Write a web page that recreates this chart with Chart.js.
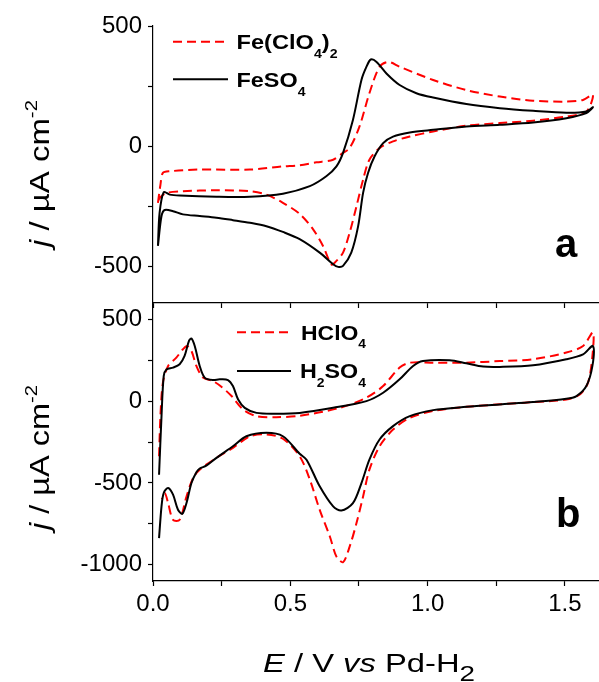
<!DOCTYPE html>
<html>
<head>
<meta charset="utf-8">
<script src="https://cdn.jsdelivr.net/npm/chart.js@4.4.1/dist/chart.umd.min.js"></script>
<style>
  html, body { margin: 0; padding: 0; background: #fff; overflow: hidden; }
  #wrap { position: relative; width: 599px; height: 682px; }
  canvas { position: absolute; left: 0; top: 0; }
</style>
</head>
<body>
<div id="wrap">
  <canvas id="panelA" width="599" height="682"></canvas>
  <canvas id="panelB" width="599" height="682"></canvas>
</div>
<script>
// ---- data (E in V vs Pd-H2, j in uA cm-2) ----
// panel a, FeSO4 (solid black), anodic then cathodic sweep
const E_A_FESO4 = [0.018,0.024,0.039,0.061,0.097,0.231,0.353,0.473,0.571,0.631,0.668,0.692,0.728,0.759,0.777,0.793,0.814,0.850,0.898,0.959,1.020,1.141,1.263,1.384,1.505,1.578,1.602,
  1.578,1.505,1.384,1.263,1.141,1.020,0.935,0.874,0.838,0.807,0.783,0.765,0.747,0.722,0.692,0.674,0.656,0.607,0.534,0.473,0.413,0.353,0.291,0.231,0.170,0.109,0.073,0.043,0.031,0.018];
const J_A_FESO4 = [-413,-276,-190,-200,-204,-209,-209,-196,-165,-124,-83,-27,110,276,330,361,351,303,255,221,203,176,159,148,140,145,163,
  138,117,99,90,83,69,58,41,14,-41,-110,-193,-331,-441,-496,-500,-489,-441,-385,-355,-331,-317,-306,-296,-289,-282,-269,-264,-289,-413];

// panel a, Fe(ClO4)2 (dashed red)
const E_A_FECLO4 = [0.018,0.027,0.036,0.061,0.170,0.353,0.473,0.534,0.595,0.656,0.692,0.716,0.752,0.788,0.825,0.856,0.898,1.020,1.141,1.263,1.384,1.505,1.566,1.602,
  1.578,1.505,1.384,1.263,1.141,1.020,0.935,0.874,0.825,0.788,0.765,0.741,0.716,0.692,0.668,0.650,0.619,0.583,0.534,0.473,0.413,0.353,0.231,0.109,0.049,0.024,0.018];
const J_A_FECLO4 = [-234,-160,-110,-103,-96,-96,-83,-78,-66,-55,-27,-7,83,221,331,351,331,276,234,207,190,186,193,215,
  145,124,107,97,86,62,41,21,-7,-55,-138,-248,-358,-441,-475,-490,-413,-344,-280,-234,-200,-186,-182,-186,-193,-214,-234];

// panel b, H2SO4 (solid black)
const E_B_H2SO4 = [0.022,0.031,0.039,0.049,0.073,0.097,0.115,0.131,0.140,0.152,0.170,0.188,0.218,0.243,0.273,0.291,0.310,0.334,0.377,0.449,0.534,0.656,0.777,0.838,0.898,0.947,0.983,1.080,1.141,1.202,1.263,1.384,1.505,1.566,1.602,
  1.600,1.578,1.542,1.505,1.384,1.263,1.141,1.020,0.935,0.874,0.825,0.788,0.759,0.728,0.686,0.656,0.607,0.559,0.534,0.473,0.413,0.340,0.291,0.231,0.194,0.170,0.158,0.140,0.122,0.107,0.091,0.073,0.055,0.039,0.031,0.022];
const J_B_H2SO4 = [-450,-92,153,194,205,225,276,368,383,337,215,144,129,133,129,92,10,-41,-72,-77,-72,-41,0,51,133,215,245,250,231,211,209,219,256,286,337,
  215,92,31,14,-6,-20,-35,-55,-92,-153,-235,-358,-501,-624,-669,-644,-521,-358,-322,-215,-194,-215,-276,-347,-395,-412,-435,-501,-623,-689,-664,-572,-531,-562,-644,-838];

// panel b, HClO4 (dashed red)
const E_B_HCLO4 = [0.022,0.027,0.036,0.055,0.085,0.109,0.124,0.140,0.158,0.182,0.218,0.249,0.286,0.328,0.377,0.449,0.534,0.680,0.777,0.838,0.898,0.935,1.020,1.141,1.263,1.384,1.505,1.566,1.602,
  1.600,1.584,1.554,1.505,1.384,1.141,1.020,0.935,0.874,0.825,0.788,0.765,0.741,0.716,0.692,0.668,0.644,0.607,0.571,0.534,0.473,0.413,0.353,0.291,0.231,0.170,0.146,0.122,0.097,0.073,0.055,0.043,0.032];
const J_B_HCLO4 = [-337,-92,112,215,266,317,337,307,215,144,123,88,31,-51,-92,-98,-90,-41,21,92,205,235,235,235,245,256,297,337,420,
  276,113,41,10,-6,-35,-60,-102,-174,-276,-419,-583,-746,-890,-985,-951,-828,-665,-480,-337,-230,-204,-215,-286,-347,-419,-470,-583,-726,-726,-624,-562,-600];

// axes
const X_TICKS = [0, 0.25, 0.5, 0.75, 1.0, 1.25, 1.5];
const Y_TICKS_A = [-500, -250, 0, 250, 500];
const Y_TICKS_B = [-1000, -750, -500, -250, 0, 250, 500];
const X_MAX = 1.624;
const Y_RANGE_A = [-650, 500];
const Y_RANGE_B = [-1100, 600];

const FONT = '"Liberation Sans", Arial, sans-serif';
const RED = '#ff0000';

function pts(xs, ys) { return xs.map((x, i) => ({ x: x, y: ys[i] })); }

// draws text made of pieces (italic / sub / sup), optionally squeezed to a width
function drawRich(ctx, parts, x, y, size, o) {
  o = o || {};
  const fontOf = p => {
    const s = (p.sub || p.sup) ? size * (p.k || 0.6) : size;
    return (p.i ? 'italic ' : '') + (o.bold ? 'bold ' : '') + s + 'px ' + FONT;
  };
  let w = 0;
  parts.forEach(p => { ctx.font = fontOf(p); w += ctx.measureText(p.t).width; });
  const sx = o.width ? o.width / w : 1;
  ctx.save();
  ctx.translate(x, y);
  if (o.rotate) ctx.rotate(-Math.PI / 2);
  ctx.scale(sx, 1);
  ctx.fillStyle = '#000';
  ctx.textBaseline = 'alphabetic';
  let cx = 0;
  parts.forEach(p => {
    ctx.font = fontOf(p);
    let dy = 0;
    if (p.sub) dy = size * (p.d || 0.4);
    if (p.sup) dy = -size * (p.d || 0.45);
    ctx.fillText(p.t, cx, dy);
    cx += ctx.measureText(p.t).width;
  });
  ctx.restore();
}

function legendLine(ctx, x1, x2, y, color, dash) {
  ctx.save();
  ctx.strokeStyle = color;
  ctx.lineWidth = 2;
  ctx.setLineDash(dash || []);
  ctx.beginPath();
  ctx.moveTo(x1, y);
  ctx.lineTo(x2, y);
  ctx.stroke();
  ctx.restore();
}

const Y_TITLE = [{ t: 'j', i: true }, { t: ' / \u00b5A cm' }, { t: '-2', sup: true, k: 0.62, d: 0.42 }];

const decorA = {
  id: 'decorA',
  afterDraw(chart) {
    const ctx = chart.ctx;
    legendLine(ctx, 173, 228, 41.7, RED, [9, 5]);
    legendLine(ctx, 173, 228, 79.3, '#000');
    drawRich(ctx, [{ t: 'Fe(ClO' }, { t: '4', sub: true }, { t: ')' }, { t: '2', sub: true }], 236.5, 49.3, 21, { bold: true, width: 101 });
    drawRich(ctx, [{ t: 'FeSO' }, { t: '4', sub: true }], 236.5, 87.3, 21, { bold: true, width: 69 });
    drawRich(ctx, [{ t: 'a' }], 555, 256.5, 40, { bold: true });
    drawRich(ctx, Y_TITLE, 48.5, 247, 28, { rotate: true, width: 147 });
  }
};

const decorB = {
  id: 'decorB',
  afterDraw(chart) {
    const ctx = chart.ctx;
    legendLine(ctx, 237, 291, 332.3, RED, [9, 5]);
    legendLine(ctx, 237, 291, 371, '#000');
    drawRich(ctx, [{ t: 'HClO' }, { t: '4', sub: true }], 301, 340, 21, { bold: true, width: 65 });
    drawRich(ctx, [{ t: 'H' }, { t: '2', sub: true }, { t: 'SO' }, { t: '4', sub: true }], 300, 378.3, 21, { bold: true, width: 66 });
    drawRich(ctx, [{ t: 'b' }], 556, 527, 40, { bold: true });
    drawRich(ctx, Y_TITLE, 49, 530, 28, { rotate: true, width: 145 });
    drawRich(ctx, [{ t: 'E', i: true }, { t: ' / V ' }, { t: 'vs', i: true }, { t: ' Pd-H' }, { t: '2', sub: true, k: 0.85, d: 0.38 }],
      263, 671.5, 26, { width: 212 });
  }
};

function makePanel(canvas, sets, yRange, yTicks, showX, padding, xHeight, plugin) {
  return new Chart(canvas, {
    type: 'line',
    data: { datasets: sets },
    options: {
      responsive: false,
      animation: false,
      devicePixelRatio: 1,
      layout: { padding: padding },
      plugins: { legend: { display: false }, tooltip: { enabled: false } },
      elements: { point: { radius: 0 }, line: { tension: 0.3, borderCapStyle: 'butt' } },
      scales: {
        x: {
          type: 'linear', min: 0, max: X_MAX,
          afterBuildTicks: s => { s.ticks = X_TICKS.map(v => ({ value: v })); },
          afterFit: s => { s.height = xHeight; },
          grid: { display: true, drawOnChartArea: false, drawTicks: true, tickLength: 5, tickColor: '#000', tickWidth: 1.2 },
          border: { display: true, color: '#000', width: 1.2 },
          ticks: {
            color: '#000', padding: 4, maxRotation: 0, autoSkip: false,
            font: { family: FONT, size: 24 },
            callback: v => (showX && Math.abs(v * 2 - Math.round(v * 2)) < 1e-6) ? v.toFixed(1) : ''
          }
        },
        y: {
          type: 'linear', min: yRange[0], max: yRange[1],
          afterBuildTicks: s => { s.ticks = yTicks.map(v => ({ value: v })); },
          afterFit: s => { s.width = 153; },
          grid: { display: true, drawOnChartArea: false, drawTicks: true, tickLength: 5, tickColor: '#000', tickWidth: 1.2 },
          border: { display: true, color: '#000', width: 1.2 },
          ticks: {
            color: '#000', padding: 6, autoSkip: false,
            font: { family: FONT, size: 24 },
            callback: v => (v % 500 === 0) ? String(v) : ''
          }
        }
      }
    },
    plugins: [plugin]
  });
}

makePanel(document.getElementById('panelA'), [
  { data: pts(E_A_FESO4, J_A_FESO4), borderColor: '#000', borderWidth: 2, fill: false },
  { data: pts(E_A_FECLO4, J_A_FECLO4), borderColor: RED, borderWidth: 2, borderDash: [9, 5], fill: false }
], Y_RANGE_A, Y_TICKS_A, false, { top: 26, bottom: 373, left: 0, right: 0 }, 6, decorA);

makePanel(document.getElementById('panelB'), [
  { data: pts(E_B_H2SO4, J_B_H2SO4), borderColor: '#000', borderWidth: 2, fill: false },
  { data: pts(E_B_HCLO4, J_B_HCLO4), borderColor: RED, borderWidth: 2, borderDash: [9, 5], fill: false }
], Y_RANGE_B, Y_TICKS_B, true, { top: 303, bottom: 0, left: 0, right: 0 }, 101, decorB);
</script>
</body>
</html>
